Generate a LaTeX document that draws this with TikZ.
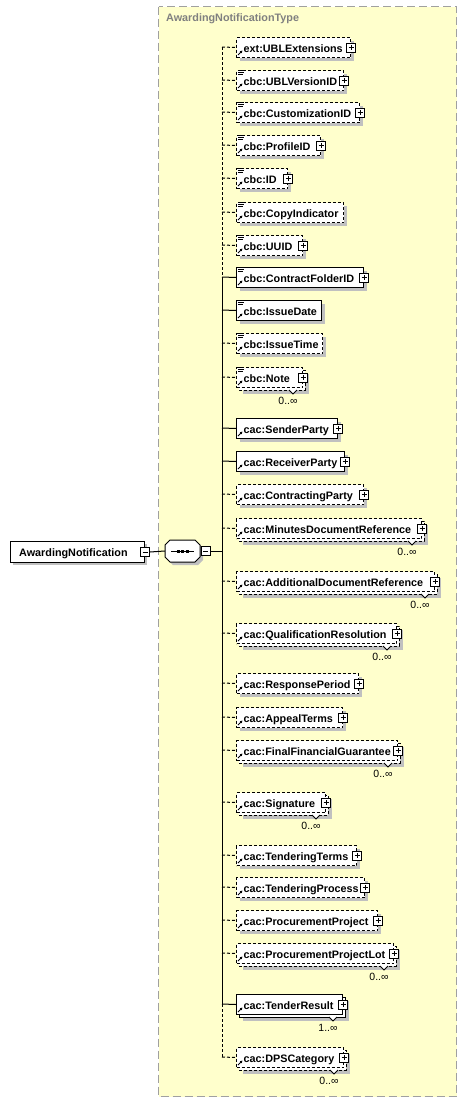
\documentclass[tikz,border=0pt]{standalone}
\usepackage{fontspec}
\setmainfont{Liberation Sans}
\usetikzlibrary{arrows.meta}
\definecolor{panelc}{HTML}{FFFFCC}
\definecolor{shadowc}{HTML}{C0C0C0}
\definecolor{panelborder}{HTML}{A0A0A0}
\definecolor{titlec}{HTML}{808080}
\tikzset{
  optbox/.style={draw=black, line width=1pt, dash pattern=on 3pt off 2pt, fill=white},
  reqbox/.style={draw=black, line width=1pt, fill=white},
  optline/.style={draw=black, line width=1pt, dash pattern=on 3pt off 2pt},
  reqline/.style={draw=black, line width=1pt},
  boxshape/.style={rectangle, minimum height=20pt, inner sep=0pt, anchor=north west},
  elemtext/.style={font=\bfseries\fontsize{10.8}{12}\selectfont, inner sep=0pt, anchor=base west},
  multtext/.style={font=\fontsize{10.5}{12}\selectfont, inner sep=0pt},
  plusbox/.style={rectangle, draw=black, fill=white, line width=0.8pt, minimum size=9pt, inner sep=0pt,
    path picture={\draw[line width=0.8pt] ([xshift=2pt]path picture bounding box.west) -- ([xshift=-2pt]path picture bounding box.east);
                  \draw[line width=0.8pt] ([yshift=-2pt]path picture bounding box.north) -- ([yshift=2pt]path picture bounding box.south);}},
  minusbox/.style={rectangle, draw=black, fill=white, line width=0.8pt, minimum size=9pt, inner sep=0pt,
    path picture={\draw[line width=0.8pt] ([xshift=2pt]path picture bounding box.west) -- ([xshift=-2pt]path picture bounding box.east);}},
}
% #1 id, #2 top, #3 right, #4 opt/req, #5 doc icon, #6 plus, #7 multiplicity, #8 text
\newcommand\xel[8]{%
  \pgfmathsetmacro\xw{#3-236}%
  \if\relax\detokenize{#7}\relax
    \fill[shadowc] (240,#2+4) rectangle (#3+4,#2+24);
  \else
    \fill[shadowc] (243,#2+7) rectangle (#3+7,#2+27);
    \draw[#4box] (239,#2+3) rectangle (#3+3,#2+23);
  \fi
  \node[boxshape, #4box, minimum width=\xw pt] (#1) at (236,#2) {};
  \node[elemtext] (#1t) at (243.5,#2+15) {#8};
  \ifnum#5=1
    \draw[line width=0.8pt] (238,#2+0.5) -- (244,#2+0.5) (238,#2+2.5) -- (244,#2+2.5) (238,#2+4.5) -- (243,#2+4.5);
  \fi
  \draw[line width=0.8pt, -{Latex[length=2.5pt,width=3pt]}] (238,#2+18) -- (242.5,#2+13.5);
  \ifnum#6=1 \node[plusbox] (#1p) at (#1.east) {};\fi
  \if\relax\detokenize{#7}\relax\else
    \draw[line width=0.8pt, fill=white] (#3-13,#2+23) -- (#3-9,#2+27) -- (#3-5,#2+23);
    \node[multtext] (#1m) at (#3-14,#2+34) {#7};
  \fi
  \coordinate (s#1) at (222,#2+10);
  \draw[#4line] (s#1) -- (#1.west);
}
\begin{document}
\begin{tikzpicture}[x=1pt,y=-1pt]
\useasboundingbox[fill=white] (0,0) rectangle (466,1103);
% panel
\draw[panelborder, dash pattern=on 8pt off 4pt, line width=1pt, fill=panelc] (158.5,6.5) rectangle (456.5,1096.5);
\node[font=\bfseries\fontsize{10.8}{12}\selectfont, text=titlec, inner sep=0pt, anchor=base west] (title) at (166,21) {AwardingNotificationType};
% root
\fill[shadowc] (13,544) rectangle (147,565);
\node[rectangle, draw=black, line width=1pt, fill=white, minimum width=134pt, minimum height=21pt, anchor=north west, inner sep=0pt] (root) at (10,541) {};
\node[elemtext] (roott) at (19,556) {AwardingNotification};
\node[minusbox] (rootm) at (root.east) {};
% sequence compositor
\fill[shadowc] (173,543) -- (198,543) -- (203,548) -- (203,560) -- (198,565) -- (173,565) -- (168,560) -- (168,548) -- cycle;
\node[rectangle, minimum width=35pt, minimum height=22pt, inner sep=0pt] (seq) at (182.5,551) {};
\draw[line width=1pt, fill=white] (170,540) -- (195,540) -- (200,545) -- (200,557) -- (195,562) -- (170,562) -- (165,557) -- (165,545) -- cycle;
\draw[line width=1pt] (171,551) -- (194,551);
\fill (176.5,549.5) rectangle (179.5,552.5);
\fill (181,549.5) rectangle (184,552.5);
\fill (185.5,549.5) rectangle (188.5,552.5);
\node[minusbox] (seqm) at (205.5,551) {};
\coordinate (sp) at (222,551);
\draw[reqline] (rootm.east) -- (seq.west);
\draw[reqline] (seqm.east) -- (sp);
% children
\xel{e1}{37}{350}{opt}{0}{1}{}{ext:UBLExtensions}
\xel{e2}{70}{343}{opt}{1}{1}{}{cbc:UBLVersionID}
\xel{e3}{102}{359}{opt}{1}{1}{}{cbc:CustomizationID}
\xel{e4}{135}{320}{opt}{1}{1}{}{cbc:ProfileID}
\xel{e5}{168}{287}{opt}{1}{1}{}{cbc:ID}
\xel{e6}{202}{343}{opt}{1}{0}{}{cbc:CopyIndicator}
\xel{e7}{235}{302}{opt}{1}{1}{}{cbc:UUID}
\xel{e8}{267}{363}{req}{1}{1}{}{cbc:ContractFolderID}
\xel{e9}{300}{321}{req}{1}{0}{}{cbc:IssueDate}
\xel{e10}{333}{322}{opt}{1}{0}{}{cbc:IssueTime}
\xel{e11}{367}{302}{opt}{1}{1}{0..∞}{cbc:Note}
\xel{e12}{418}{337}{req}{0}{1}{}{cac:SenderParty}
\xel{e13}{451}{344}{req}{0}{1}{}{cac:ReceiverParty}
\xel{e14}{484}{363}{opt}{0}{1}{}{cac:ContractingParty}
\xel{e15}{518}{421}{opt}{0}{1}{0..∞}{cac:MinutesDocumentReference}
\xel{e16}{571}{434}{opt}{0}{1}{0..∞}{cac:AdditionalDocumentReference}
\xel{e17}{623}{396}{opt}{0}{1}{0..∞}{cac:QualificationResolution}
\xel{e18}{673}{358}{opt}{0}{1}{}{cac:ResponsePeriod}
\xel{e19}{707}{342}{opt}{0}{1}{}{cac:AppealTerms}
\xel{e20}{740}{397}{opt}{0}{1}{0..∞}{cac:FinalFinancialGuarantee}
\xel{e21}{792}{325}{opt}{0}{1}{0..∞}{cac:Signature}
\xel{e22}{845}{356}{opt}{0}{1}{}{cac:TenderingTerms}
\xel{e23}{877}{364}{opt}{0}{1}{}{cac:TenderingProcess}
\xel{e24}{910}{377}{opt}{0}{1}{}{cac:ProcurementProject}
\xel{e25}{943}{393}{opt}{0}{1}{0..∞}{cac:ProcurementProjectLot}
\xel{e26}{994}{342}{req}{0}{1}{1..∞}{cac:TenderResult}
\xel{e27}{1047}{343}{opt}{0}{1}{0..∞}{cac:DPSCategory}
% spine
\draw[optline] (se1) -- (se8);
\draw[reqline] (se8) -- (se26);
\draw[optline] (se26) -- (se27);
\end{tikzpicture}
\end{document}
